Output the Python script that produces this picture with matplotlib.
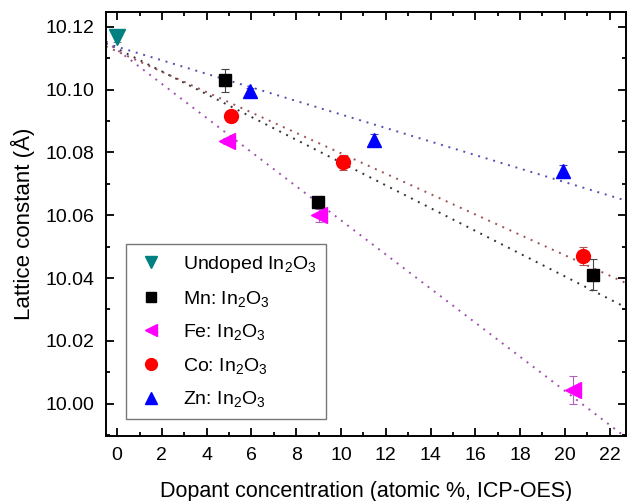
import numpy as np
import matplotlib
matplotlib.use("Agg")
import matplotlib.pyplot as plt
from matplotlib.ticker import MultipleLocator

plt.rcParams['font.family'] = ['Liberation Sans', 'DejaVu Sans']
plt.rcParams['mathtext.fontset'] = 'custom'
plt.rcParams['mathtext.rm'] = 'Liberation Sans'
plt.rcParams['mathtext.it'] = 'Liberation Sans:italic'
plt.rcParams['mathtext.bf'] = 'Liberation Sans:bold'

# Lattice constant (Å) versus dopant concentration (atomic %, ICP-OES)
undoped_x = [0.0]
undoped_y = [10.1166]

mn_x = [4.82, 8.99, 21.26]
mn_y = [10.1030, 10.0643, 10.0411]
mn_err = [0.0037, 0.0015, 0.0050]

fe_x = [4.89, 9.03, 20.37]
fe_y = [10.0836, 10.0600, 10.0043]
fe_err = [0.0010, 0.0020, 0.0045]

co_x = [5.10, 10.07, 20.79]
co_y = [10.0916, 10.0768, 10.0470]
co_err = [0.0010, 0.0025, 0.0030]

zn_x = [5.94, 11.49, 19.90]
zn_y = [10.0996, 10.0839, 10.0740]
zn_err = [0.0010, 0.0020, 0.0020]

fig = plt.figure(figsize=(6.27, 5.01), dpi=100)
ax = fig.add_axes([0.169, 0.1297, 0.830, 0.8463])

xlim = (-0.5, 22.75)
ylim = (9.9897, 10.1247)

series = [
    (mn_x, mn_y, mn_err, 's', 'black', '#333333', '#444444', 'Mn: In$_2$O$_3$', 8),
    (fe_x, fe_y, fe_err, '<', '#ff00ff', '#a050b0', '#b060c0', 'Fe: In$_2$O$_3$', 11),
    (co_x, co_y, co_err, 'o', 'red', '#a05050', '#b05050', 'Co: In$_2$O$_3$', 10),
    (zn_x, zn_y, zn_err, '^', 'blue', '#5050b0', '#4040c0', 'Zn: In$_2$O$_3$', 10),
]

# linear fits through the undoped point plus each dopant series
xfit = np.array(xlim)
for xs, ys, es, m, c, lc, ec, lab, ms in series:
    fx = np.array(undoped_x + xs)
    fy = np.array(undoped_y + ys)
    k, b = np.polyfit(fx, fy, 1)
    ax.plot(xfit, k * xfit + b, linestyle=(0, (1, 3)), color=lc, lw=1.4, zorder=1)

handles = []
h = ax.errorbar(undoped_x, undoped_y, yerr=[0.0015], fmt='v', color='#008080',
                ms=11, ecolor='#808080', elinewidth=0.8, capsize=3, capthick=0.8,
                zorder=3, label='Undoped In$_2$O$_3$')
handles.append(h)
for xs, ys, es, m, c, lc, ec, lab, ms in series:
    h = ax.errorbar(xs, ys, yerr=es, fmt=m, color=c, ms=ms, ecolor=ec,
                    elinewidth=0.8, capsize=3, capthick=0.8, zorder=3, label=lab)
    handles.append(h)

ax.set_xlim(*xlim)
ax.set_ylim(*ylim)
ax.xaxis.set_major_locator(MultipleLocator(2))
ax.xaxis.set_minor_locator(MultipleLocator(1))
ax.yaxis.set_major_locator(MultipleLocator(0.02))
ax.yaxis.set_minor_locator(MultipleLocator(0.01))
ax.yaxis.set_major_formatter(matplotlib.ticker.FormatStrFormatter('%.2f'))

ax.tick_params(which='both', direction='in', top=True, right=True, width=1.3,
               labelsize=14, colors='black')
ax.tick_params(which='major', length=6, pad=8)
ax.tick_params(which='minor', length=3)
for s in ax.spines.values():
    s.set_linewidth(1.4)

ax.set_xlabel('Dopant concentration (atomic %, ICP-OES)', fontsize=15.5, labelpad=12)
ax.set_ylabel('Lattice constant (Å)', fontsize=16, labelpad=8)

leg_handles = [hh[0] for hh in handles]
leg = ax.legend(leg_handles, [hh.get_label() for hh in handles],
                loc='lower left', bbox_to_anchor=(0.038, 0.04), fontsize=14,
                frameon=True, fancybox=False, edgecolor='#555555',
                handletextpad=0.85, borderpad=0.5, labelspacing=0.7,
                handlelength=1.6, borderaxespad=0, markerscale=0.85)
leg.get_frame().set_linewidth(1.0)

fig.savefig('out.png', dpi=100)
